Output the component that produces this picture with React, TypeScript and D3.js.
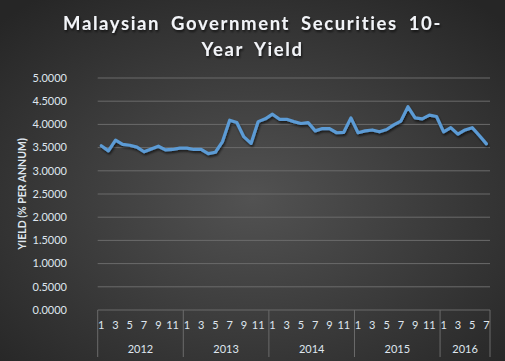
import React from "react";
import * as d3 from "d3";

const years = ["2012", "2013", "2014", "2015", "2016"];
const monthsPerYear = [12, 12, 12, 12, 7];
const yieldValues = [
  3.54, 3.43, 3.66, 3.57, 3.55, 3.51, 3.41, 3.47, 3.53, 3.45, 3.46, 3.49,
  3.49, 3.46, 3.46, 3.37, 3.40, 3.63, 4.09, 4.04, 3.73, 3.59, 4.06, 4.12,
  4.22, 4.11, 4.11, 4.06, 4.02, 4.04, 3.86, 3.91, 3.91, 3.82, 3.83, 4.14,
  3.82, 3.86, 3.88, 3.84, 3.89, 3.99, 4.07, 4.38, 4.14, 4.12, 4.20, 4.17,
  3.84, 3.93, 3.79, 3.88, 3.93, 3.76, 3.58,
];
const yTicks = [0, 0.5, 1, 1.5, 2, 2.5, 3, 3.5, 4, 4.5, 5];
const titleLines = ["Malaysian Government Securities 10-", "Year Yield"];
const yAxisTitle = "YIELD (% PER ANNUM)";

const W = 505;
const H = 361;

export default function App() {
  const cats: { key: string; month: number; year: string }[] = [];
  years.forEach((y, yi) => {
    for (let m = 1; m <= monthsPerYear[yi]; m++) cats.push({ key: `${y}-${m}`, month: m, year: y });
  });
  const x = d3.scaleBand<string>().domain(cats.map((c) => c.key)).range([97.7, 490]).padding(0);
  const y = d3.scaleLinear().domain([0, 5]).range([310, 78]);
  const data = cats.map((c, i) => ({ key: c.key, v: yieldValues[i] }));
  const line = d3
    .line<{ key: string; v: number }>()
    .x((d) => (x(d.key) as number) + x.bandwidth() / 2)
    .y((d) => y(d.v));

  const gridColor = "#6b6b6b";
  const textColor = "#dfe6ee";
  const font = "Lato, 'Open Sans', sans-serif";

  const boundaries: number[] = [];
  let idx = 0;
  years.forEach((yr, yi) => {
    boundaries.push(x(cats[idx].key) as number);
    idx += monthsPerYear[yi];
  });
  boundaries.push(490);

  return (
    <svg width={W} height={H} style={{ position: "absolute", left: 0, top: 0 }}>
      <defs>
        <radialGradient id="bg" cx="50%" cy="55%" r="70%">
          <stop offset="0%" stopColor="#525252" />
          <stop offset="100%" stopColor="#262626" />
        </radialGradient>
        <filter id="shadow" x="-10%" y="-10%" width="120%" height="130%">
          <feDropShadow dx="1" dy="2" stdDeviation="1.2" floodColor="#000" floodOpacity="0.6" />
        </filter>
      </defs>
      <rect x={0} y={0} width={W} height={H} fill="url(#bg)" />
      {titleLines.map((t, i) => (
        <text
          key={i}
          x={W / 2}
          y={30 + i * 26}
          textAnchor="middle"
          fill="#f2f4f8"
          fontFamily={font}
          fontWeight="bold"
          fontSize={18.5}
          letterSpacing={1.6}
          wordSpacing={5}
          filter="url(#shadow)"
        >
          {t}
        </text>
      ))}
      {yTicks.map((t) => (
        <g key={t}>
          <line x1={97.7} x2={490} y1={y(t)} y2={y(t)} stroke={gridColor} strokeWidth={1} />
          <text
            x={67}
            y={y(t)}
            dy="0.35em"
            textAnchor="end"
            fill={textColor}
            fontFamily={font}
            fontSize={11}
          >
            {t.toFixed(4)}
          </text>
        </g>
      ))}
      <text
        transform={`translate(26,${(y(0) + y(5)) / 2}) rotate(-90)`}
        textAnchor="middle"
        fill={textColor}
        fontFamily={font}
        fontWeight="bold"
        fontSize={10.5}
      >
        {yAxisTitle}
      </text>
      {boundaries.map((b, i) => (
        <line key={i} x1={b} x2={b} y1={310} y2={357} stroke={gridColor} strokeWidth={1} />
      ))}
      {cats.map((c) =>
        c.month % 2 === 1 ? (
          <text
            key={c.key}
            x={(x(c.key) as number) + x.bandwidth() / 2}
            y={329}
            textAnchor="middle"
            fill={textColor}
            fontFamily={font}
            fontSize={11}
          >
            {c.month}
          </text>
        ) : null
      )}
      {years.map((yr, i) => (
        <text
          key={yr}
          x={(boundaries[i] + boundaries[i + 1]) / 2}
          y={353}
          textAnchor="middle"
          fill={textColor}
          fontFamily={font}
          fontSize={11}
        >
          {yr}
        </text>
      ))}
      <path
        d={line(data) as string}
        fill="none"
        stroke="#5b9bd5"
        strokeWidth={3.2}
        strokeLinejoin="round"
        strokeLinecap="round"
        filter="url(#shadow)"
      />
    </svg>
  );
}
